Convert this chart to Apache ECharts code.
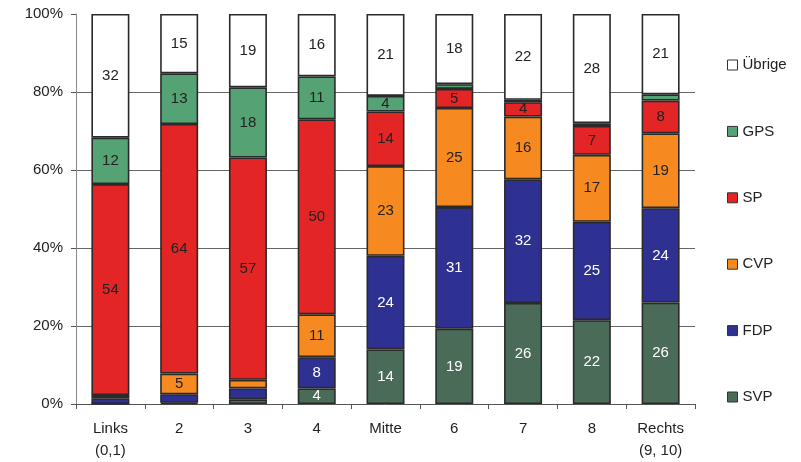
<!DOCTYPE html>
<html>
<head>
<meta charset="utf-8">
<script src="https://cdn.jsdelivr.net/npm/echarts@6/dist/echarts.min.js"></script>
<style>
  html, body { margin: 0; padding: 0; background: #fff; }
  #chart { width: 801px; height: 462px; }
</style>
</head>
<body>
<div id="chart"></div>
<script>
// Vote shares (%) by left-right self-placement, stacked from bottom to top
const categories = ['Links\n(0,1)', '2', '3', '4', 'Mitte', '6', '7', '8', 'Rechts\n(9, 10)'];
const svp     = [0,    0.3,  1.2,  4,  14, 19.3, 25.9, 21.5, 26];
const fdp     = [1.5,  2.2,  2.8,  8,  24, 31.2, 31.7, 25.2, 24.2];
const cvp     = [0.8,  5.3,  2.2,  11, 23, 25.4, 16.1, 17.2, 19.2];
const sp      = [54.1, 64,   57,   50, 14, 4.9,  3.7,  7.4,  8.4];
const gps     = [11.9, 13,   18,   11, 4,  1.2,  0.6,  0.7,  1.6];
const uebrige = [31.7, 15.2, 18.8, 16, 21, 18,   22,   28,   20.6];
const yTicks = [0, 20, 40, 60, 80, 100];

const font = 'Liberation Sans, Arial, sans-serif';

const partySeries = [
  { name: 'SVP',    data: svp,     color: '#4a6b58', text: '#ffffff' },
  { name: 'FDP',    data: fdp,     color: '#2e3192', text: '#ffffff' },
  { name: 'CVP',    data: cvp,     color: '#f68a20', text: '#222222' },
  { name: 'SP',     data: sp,      color: '#e32526', text: '#222222' },
  { name: 'GPS',    data: gps,     color: '#55a274', text: '#222222' },
  { name: 'Übrige', data: uebrige, color: '#ffffff', text: '#222222' }
];

const chart = echarts.init(document.getElementById('chart'), null, { renderer: 'canvas' });

chart.setOption({
  animation: false,
  textStyle: { fontFamily: font },
  grid: { left: 76, right: 106, top: 14, bottom: 58, containLabel: false },
  legend: {
    orient: 'vertical',
    left: 722,
    top: 52.5,
    data: ['Übrige', 'GPS', 'SP', 'CVP', 'FDP', 'SVP'],
    icon: 'rect',
    itemWidth: 10,
    itemHeight: 10,
    itemGap: 51.4,
    selectedMode: false,
    textStyle: { fontFamily: font, fontSize: 15, color: '#222', lineHeight: 14 },
    itemStyle: { borderColor: '#333', borderWidth: 1 }
  },
  xAxis: {
    type: 'category',
    data: categories,
    boundaryGap: true,
    axisLine: { show: true, lineStyle: { color: '#555', width: 1 } },
    axisTick: { show: true, length: 5, alignWithLabel: false, lineStyle: { color: '#555' } },
    axisLabel: { fontFamily: font, fontSize: 15, color: '#222', lineHeight: 22, margin: 14, interval: 0 },
    splitLine: { show: false }
  },
  yAxis: {
    type: 'value',
    min: yTicks[0],
    max: yTicks[yTicks.length - 1],
    interval: 20,
    axisLine: { show: true, lineStyle: { color: '#888', width: 1 } },
    axisTick: { show: true, length: 5, lineStyle: { color: '#555' } },
    axisLabel: { fontFamily: font, fontSize: 15, color: '#222', margin: 13, formatter: '{value}%' },
    splitLine: { show: true, showMinLine: false, showMaxLine: false, lineStyle: { color: '#666', width: 1 } }
  },
  series: partySeries.map(p => ({
    name: p.name,
    type: 'bar',
    stack: 'total',
    barWidth: 38,
    data: p.data,
    itemStyle: { color: p.color, borderColor: '#2a2a2a', borderWidth: 1.6 },
    label: {
      show: true,
      position: 'inside',
      fontFamily: font,
      fontSize: 15,
      color: p.text,
      formatter: params => (params.value >= 3.5 ? String(Math.round(params.value)) : '')
    }
  }))
});
</script>
</body>
</html>
